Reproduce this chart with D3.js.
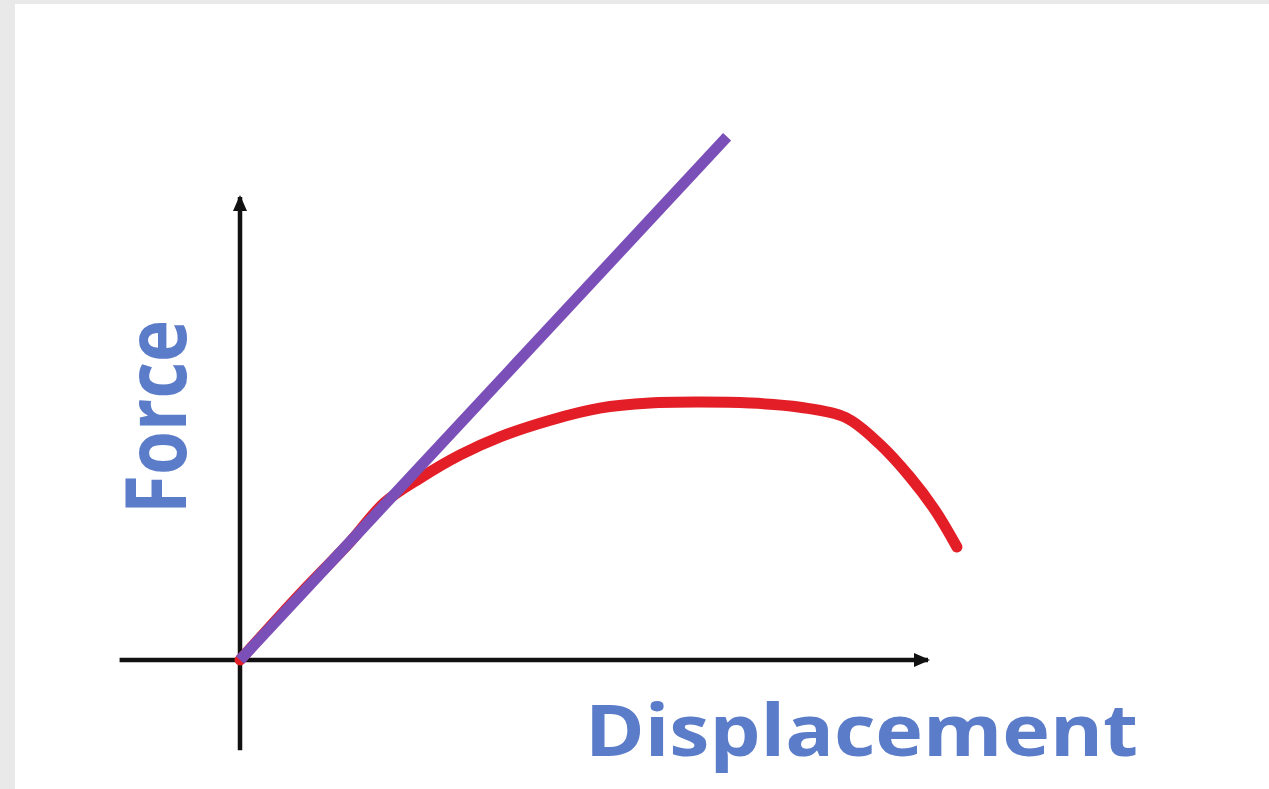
<!DOCTYPE html>
<html>
<head>
<meta charset="utf-8">
<script src="https://cdn.jsdelivr.net/npm/d3@7"></script>
<style>
  html, body { margin: 0; padding: 0; background: #e9e9e9; }
  svg { display: block; }
</style>
</head>
<body>
<svg id="chart" width="1269" height="789"></svg>
<script>
// Axis extents (data units; negative side shows the axis stubs past the origin)
const xAxisExtent = [-1.75, 10];
const yAxisExtent = [-1.95, 10];

// Linear elastic response (straight line from the origin)
const elasticX = [0, 7.08];
const elasticY = [0, 11.3];

// Measured force–displacement curve
const curveX = [0, 0.87, 1.60, 2.10, 2.62, 3.20, 3.78, 4.51, 5.23, 5.96, 6.69, 7.41, 8.14, 8.80, 9.30, 9.74, 10.10, 10.42];
const curveY = [0, 1.42, 2.55, 3.40, 3.93, 4.43, 4.82, 5.18, 5.44, 5.55, 5.57, 5.55, 5.46, 5.24, 4.66, 3.95, 3.24, 2.44];

// Axis titles
const xTitle = "Displacement";
const yTitle = "Force";

const svg = d3.select("#chart");
const W = 1269, H = 789;

// light grey frame on the left and top edges
svg.append("rect").attr("x", 0).attr("y", 0).attr("width", W).attr("height", H).attr("fill", "#e9e9e9");
svg.append("rect").attr("x", 15).attr("y", 4).attr("width", W - 15).attr("height", H - 4).attr("fill", "#ffffff");

const x = d3.scaleLinear().domain([0, 10]).range([240, 928]);
const y = d3.scaleLinear().domain([0, 10]).range([660, 197]);

const defs = svg.append("defs");
defs.append("marker")
  .attr("id", "arrow")
  .attr("viewBox", "0 0 16 16")
  .attr("refX", 14).attr("refY", 8)
  .attr("markerWidth", 16).attr("markerHeight", 16)
  .attr("markerUnits", "userSpaceOnUse")
  .attr("orient", "auto")
  .append("path")
  .attr("d", "M0,1 L16,8 L0,15 Z")
  .attr("fill", "#111");

const line = d3.line().x(d => x(d[0])).y(d => y(d[1]));

// axes
svg.append("path")
  .attr("d", line([[xAxisExtent[0], 0], [xAxisExtent[1], 0]]))
  .attr("stroke", "#111").attr("stroke-width", 4.5).attr("fill", "none")
  .attr("marker-end", "url(#arrow)");
svg.append("path")
  .attr("d", line([[0, yAxisExtent[0]], [0, yAxisExtent[1]]]))
  .attr("stroke", "#111").attr("stroke-width", 4.5).attr("fill", "none")
  .attr("marker-end", "url(#arrow)");

// measured curve
const curvePts = curveX.map((v, i) => [v, curveY[i]]);
svg.append("path")
  .attr("d", d3.line().x(d => x(d[0])).y(d => y(d[1])).curve(d3.curveCatmullRom.alpha(0.5))(curvePts))
  .attr("stroke", "#e41e26").attr("stroke-width", 11)
  .attr("stroke-linecap", "round").attr("fill", "none");

// elastic line
const elasticPts = elasticX.map((v, i) => [v, elasticY[i]]);
svg.append("path")
  .attr("d", line(elasticPts))
  .attr("stroke", "#7a4fb8").attr("stroke-width", 11)
  .attr("fill", "none");

// titles
svg.append("text")
  .attr("x", 585).attr("y", 756)
  .attr("font-family", "'Open Sans', sans-serif")
  .attr("font-weight", 700)
  .attr("font-size", 72)
  .attr("fill", "#5b7cc8")
  .attr("textLength", 553)
  .attr("lengthAdjust", "spacingAndGlyphs")
  .text(xTitle);

svg.append("text")
  .attr("transform", "translate(186,514) rotate(-90)")
  .attr("font-family", "'Open Sans', sans-serif")
  .attr("font-weight", 700)
  .attr("font-size", 84)
  .attr("fill", "#5b7cc8")
  .attr("textLength", 194)
  .attr("lengthAdjust", "spacingAndGlyphs")
  .text(yTitle);
</script>
</body>
</html>
